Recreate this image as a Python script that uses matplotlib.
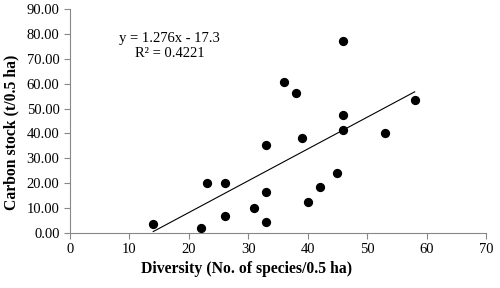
import numpy as np
import matplotlib.pyplot as plt

plt.rcParams['font.family'] = ['Liberation Serif', 'DejaVu Serif']

# diversity (no. of species / 0.5 ha) and carbon stock (t / 0.5 ha)
diversity = [14, 22, 23, 26, 26, 31, 33, 33, 33, 36, 38, 39, 40, 42, 45, 46, 46, 46, 53, 58]
carbon = [3.8, 2.0, 20.0, 20.0, 6.8, 10.0, 4.3, 16.3, 35.5, 60.8, 56.2, 38.2, 12.3, 18.3,
          24.0, 77.0, 47.2, 41.2, 40.0, 53.5]
slope, intercept = 1.276, -17.3
x_ticks = [0, 10, 20, 30, 40, 50, 60, 70]
y_ticks = [0, 10, 20, 30, 40, 50, 60, 70, 80, 90]

fig = plt.figure(figsize=(5, 2.88), dpi=100)
ax = fig.add_axes([0.14, 0.191, 0.832, 0.778])

ax.scatter(diversity, carbon, s=32, color='black', zorder=3)
xl = np.array([min(diversity), max(diversity)])
ax.plot(xl, slope * xl + intercept, color='black', lw=0.8)

ax.set_xlim(0, 70)
ax.set_ylim(0, 90)
ax.set_xticks(x_ticks)
ax.set_yticks(y_ticks)
ax.set_yticklabels(['%.2f' % v for v in y_ticks])
ax.tick_params(labelsize=10.5, color='#888888', length=4, direction='out')

for s in ['top', 'right']:
    ax.spines[s].set_visible(False)
for s in ['left', 'bottom']:
    ax.spines[s].set_color('#888888')

ax.text(16.8, 78.3, 'y = 1.276x - 17.3', ha='center', va='center', fontsize=10.5)
ax.text(16.8, 72.0, 'R² = 0.4221', ha='center', va='center', fontsize=10.5)

ax.set_xlabel('Diversity (No. of species/0.5 ha)', fontsize=11.3, fontweight='bold')
ax.xaxis.set_label_coords(0.425, -0.125)
ax.set_ylabel('Carbon stock (t/0.5 ha)', fontsize=11.3, fontweight='bold')
ax.yaxis.set_label_coords(-0.122, 0.45)

fig.savefig('out.png', dpi=100)
